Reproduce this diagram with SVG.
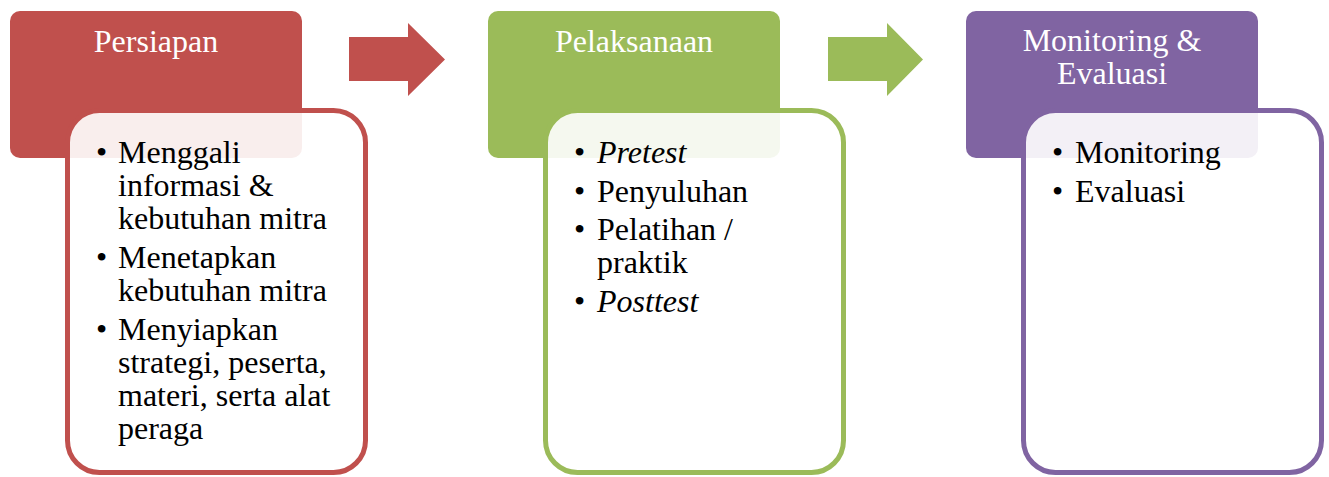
<svg xmlns="http://www.w3.org/2000/svg" width="1329" height="477" viewBox="0 0 1329 477">
<style>
text{font-family:"Liberation Serif","Times New Roman",serif;font-size:32px}
.h{fill:#fff;text-anchor:middle}
.b{fill:#000}
.box{fill:#fff;fill-opacity:0.9;stroke-width:5}
.it{font-style:italic}
</style>
<rect width="1329" height="477" fill="#fff"/>
<g id="persiapan">
<rect x="10" y="11" width="292" height="147" rx="10" fill="#C0504D"/>
<text class="h" x="156" y="52">Persiapan</text>
<rect class="box" x="67.5" y="110.5" width="298" height="362" rx="32" stroke="#C0504D"/>
<g class="b">
<text x="96" y="163">•</text><text x="118" y="163">Menggali</text>
<text x="118" y="196">informasi &amp;</text>
<text x="118" y="229">kebutuhan mitra</text>
<text x="96" y="268">•</text><text x="118" y="268">Menetapkan</text>
<text x="118" y="301">kebutuhan mitra</text>
<text x="96" y="340">•</text><text x="118" y="340">Menyiapkan</text>
<text x="118" y="373">strategi, peserta,</text>
<text x="118" y="406">materi, serta alat</text>
<text x="118" y="439">peraga</text>
</g>
</g>
<g id="pelaksanaan">
<rect x="488" y="11" width="292" height="147" rx="10" fill="#9BBB59"/>
<text class="h" x="634" y="52">Pelaksanaan</text>
<rect class="box" x="545.5" y="110.5" width="298" height="362" rx="32" stroke="#9BBB59"/>
<g class="b">
<text x="574" y="163">•</text><text class="it" x="597" y="163">Pretest</text>
<text x="574" y="202">•</text><text x="597" y="202">Penyuluhan</text>
<text x="574" y="240">•</text><text x="597" y="240">Pelatihan /</text>
<text x="597" y="273">praktik</text>
<text x="574" y="312">•</text><text class="it" x="597" y="312">Posttest</text>
</g>
</g>
<g id="monitoring">
<rect x="966" y="11" width="292" height="147" rx="10" fill="#8064A2"/>
<text class="h" x="1112" y="51">Monitoring &amp;</text>
<text class="h" x="1112" y="84">Evaluasi</text>
<rect class="box" x="1023.5" y="110.5" width="298" height="362" rx="32" stroke="#8064A2"/>
<g class="b">
<text x="1052" y="163">•</text><text x="1075" y="163">Monitoring</text>
<text x="1052" y="202">•</text><text x="1075" y="202">Evaluasi</text>
</g>
</g>
<g id="connectors">
<polygon points="349,37 408,37 408,23 445,59.5 408,96 408,81 349,81" fill="#C0504D"/>
<polygon points="828,37 887,37 887,23 923,59.5 887,96 887,81 828,81" fill="#9BBB59"/>
</g>
</svg>
